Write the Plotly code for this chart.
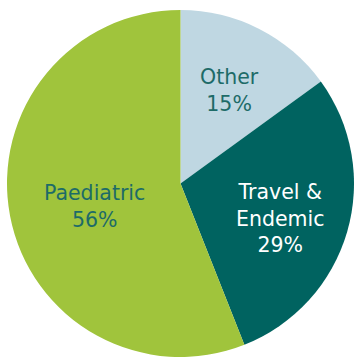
import plotly.graph_objects as go

labels = ["Other", "Travel &<br>Endemic", "Paediatric"]
values = [15, 29, 56]
colors = ["#bfd7e2", "#006360", "#a0c43c"]
text_colors = ["#1d6b68", "#ffffff", "#1d6b68"]
# label block centres in pixels (x, y)
label_px = [(230, 90), (280.5, 218), (94.5, 207)]

W, H = 354, 359
ML, MR, MT, MB = 7, 0, 8, 0

fig = go.Figure(go.Pie(
    labels=labels,
    values=values,
    sort=False,
    direction="clockwise",
    rotation=0,
    marker=dict(colors=colors, line=dict(width=0)),
    textinfo="none",
    showlegend=False,
    hoverinfo="label+percent",
))

pw, ph = W - ML - MR, H - MT - MB
for lab, val, col, (px, py) in zip(labels, values, text_colors, label_px):
    fig.add_annotation(
        x=(px - ML) / pw, y=1 - (py - MT) / ph,
        xref="paper", yref="paper",
        text=f"{lab}<br>{val}%",
        showarrow=False,
        xanchor="center", yanchor="middle",
        align="center",
        font=dict(family="DejaVu Sans", size=20.5, color=col),
    )

fig.update_layout(
    width=W, height=H,
    margin=dict(l=ML, r=MR, t=MT, b=MB),
    paper_bgcolor="white",
)

fig.write_html("out.html")
